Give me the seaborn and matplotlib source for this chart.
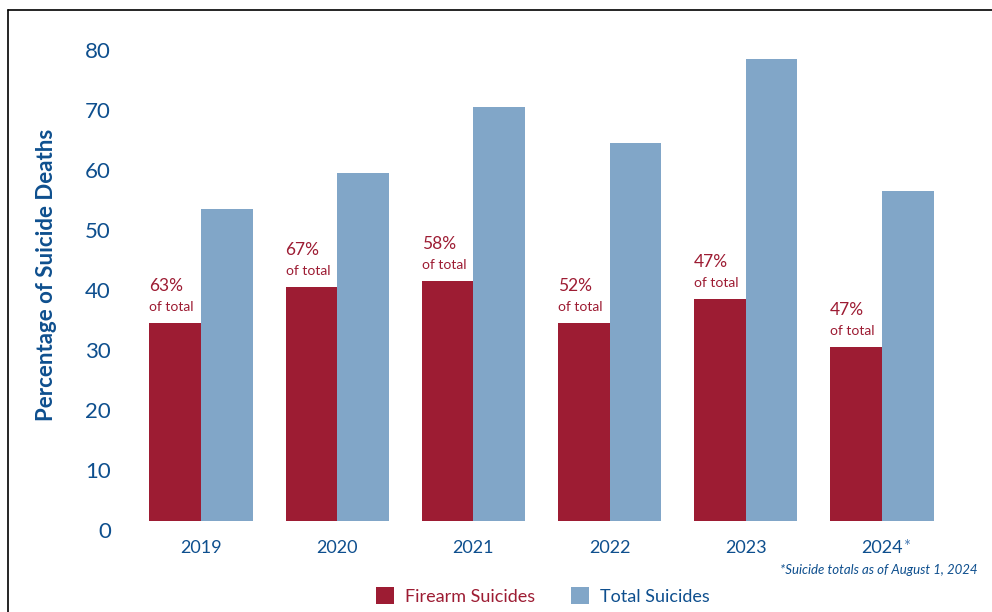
import matplotlib
matplotlib.use("Agg")
import matplotlib.pyplot as plt
import matplotlib.transforms as mtransforms
from matplotlib.patches import Patch
import seaborn as sns
import pandas as pd

years = ["2019", "2020", "2021", "2022", "2023", "2024"]
firearm = [33, 39, 40, 33, 37, 29]
total = [52, 58, 69, 63, 77, 55]
pct_labels = ["63%", "67%", "58%", "52%", "47%", "47%"]
series = ["Firearm Suicides", "Total Suicides"]
yticks = [0, 10, 20, 30, 40, 50, 60, 70, 80]

RED = "#9D1C33"
BLUE = "#81A6C8"
TXT = "#0E4F8E"

df = pd.DataFrame({
    "year": years * 2,
    "value": firearm + total,
    "series": [series[0]] * len(years) + [series[1]] * len(years),
})

sns.set_theme(style="white")
plt.rcParams["font.family"] = ["Lato", "DejaVu Sans"]

fig = plt.figure(figsize=(9.92, 6.12), dpi=100)
ax = fig.add_axes([133 / 992, (612 - 521) / 612, (950 - 133) / 992, (521 - 29) / 612])

sns.barplot(data=df, x="year", y="value", hue="series", order=years,
            hue_order=series, palette=[RED, BLUE], width=0.76, gap=0,
            saturation=1, ax=ax, legend=False, linewidth=0, edgecolor="none")

ax.set_ylim(0, 82)
ax.set_xlim(-0.5, len(years) - 0.5)
ax.set_yticks(yticks)
ax.set_yticklabels([str(t) for t in yticks])
for s in ax.spines.values():
    s.set_visible(False)
ax.tick_params(axis="y", length=0, pad=16, labelsize=16, labelcolor=TXT)
ax.tick_params(axis="x", length=0, pad=14, labelsize=13, labelcolor=TXT)
ax.set_xlabel("")
ax.set_ylabel("Percentage of Suicide Deaths", fontsize=16, fontweight="bold",
              color=TXT, labelpad=20)

off = mtransforms.ScaledTranslation(0, -0.09, fig.dpi_scale_trans)
for lab in ax.get_yticklabels():
    lab.set_transform(lab.get_transform() + off)

# annotations above firearm bars
for bar, pct in zip(ax.containers[0], pct_labels):
    x = bar.get_x()
    h = bar.get_height()
    ax.annotate("of total", (x, h), xytext=(0, 7), textcoords="offset points",
                ha="left", va="bottom", fontsize=10, color=RED)
    ax.annotate(pct, (x, h), xytext=(0, 21), textcoords="offset points",
                ha="left", va="bottom", fontsize=12.5, color=RED)

# asterisk after 2024
ax.annotate("*", (len(years) - 1, 0), xytext=(15, -13), textcoords="offset points",
            ha="left", va="top", fontsize=12, color="#4A7DB5",
            annotation_clip=False)

fig.text(977 / 992, 1 - 570 / 612, "*Suicide totals as of August 1, 2024",
         ha="right", va="center", fontsize=9.5, style="italic", color=TXT)

handles = [Patch(facecolor=RED, edgecolor="none"), Patch(facecolor=BLUE, edgecolor="none")]
leg = fig.legend(handles, series, loc="center", bbox_to_anchor=(543 / 992, 1 - 596 / 612),
                 ncol=2, frameon=False, fontsize=13, handlelength=1.0, handleheight=1.0,
                 handletextpad=0.6, columnspacing=2.0)
for t, c in zip(leg.get_texts(), [RED, TXT]):
    t.set_color(c)

# frame lines (left and top)
fig.add_artist(plt.Line2D([8 / 992, 8 / 992], [0, 1 - 10 / 612], color="black", lw=1.2,
                          transform=fig.transFigure))
fig.add_artist(plt.Line2D([8 / 992, 1], [1 - 10 / 612, 1 - 10 / 612], color="black", lw=1.2,
                          transform=fig.transFigure))

fig.savefig("out.png", dpi=100)
